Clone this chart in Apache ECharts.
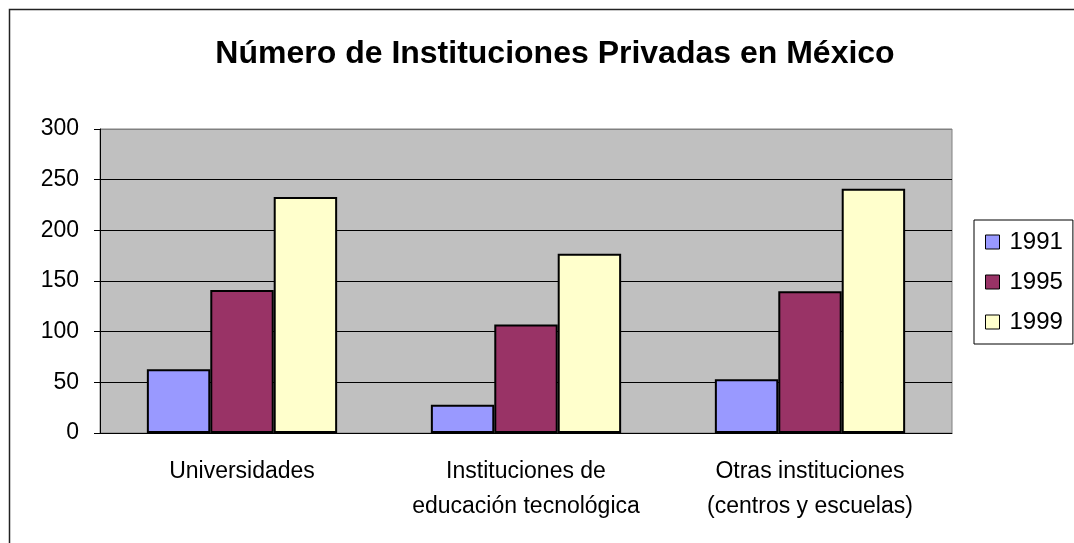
<!DOCTYPE html>
<html>
<head>
<meta charset="utf-8">
<script src="https://cdn.jsdelivr.net/npm/echarts@6/dist/echarts.min.js"></script>
<style>
  html, body { margin: 0; padding: 0; background: #fff; }
  #main { width: 1074px; height: 543px; }
</style>
</head>
<body>
<div id="main"></div>
<script>
// datos
var categorias = ['Universidades', 'Instituciones de\neducación tecnológica', 'Otras instituciones\n(centros y escuelas)'];
var anios = ['1991', '1995', '1999'];
var valores1991 = [63, 28, 53];
var valores1995 = [141, 107, 140];
var valores1999 = [233, 177, 241];
var colores = ['#9999FF', '#993366', '#FFFFCC'];

var myChart = echarts.init(document.getElementById('main'));

var series = [valores1991, valores1995, valores1999].map(function (d, i) {
  return {
    name: anios[i],
    type: 'bar',
    data: d,
    barGap: '0%',
    barCategoryGap: '33%',
    itemStyle: { color: colores[i], borderColor: '#000', borderWidth: 2 }
  };
});

var option = {
  backgroundColor: '#fff',
  animation: false,
  textStyle: { fontFamily: 'Liberation Sans, Arial, sans-serif' },
  title: {
    text: 'Número de Instituciones Privadas en México',
    left: 550, top: 33, textAlign: 'center',
    textStyle: { fontSize: 32, fontWeight: 'bold', color: '#000' }
  },
  graphic: [{
    type: 'rect', silent: true, z: -1,
    shape: { x: 9.5, y: 9.5, width: 1100, height: 600 },
    style: { fill: 'none', stroke: '#222', lineWidth: 1.5 }
  }],
  legend: {
    orient: 'vertical',
    left: 974, top: 220,
    itemWidth: 14, itemHeight: 14, itemGap: 16,
    padding: [10, 10, 10, 11],
    borderColor: '#000', borderWidth: 1,
    icon: 'rect',
    itemStyle: { borderColor: '#000', borderWidth: 1 },
    textStyle: { fontSize: 24, color: '#000', padding: [0, 0, 0, 5] },
    data: anios
  },
  grid: { left: 100, right: 122, top: 129, bottom: 110, show: true, backgroundColor: '#C0C0C0', borderColor: '#808080', borderWidth: 1 },
  xAxis: {
    type: 'category',
    data: categorias,
    axisLine: { lineStyle: { color: '#000', width: 1 } },
    axisTick: { length: 6, lineStyle: { color: '#000' } },
    axisLabel: { interval: 0, hideOverlap: false, fontSize: 23, color: '#000', margin: 21, lineHeight: 35 }
  },
  yAxis: {
    type: 'value',
    min: 0, max: 300, interval: 50,
    axisLine: { show: true, lineStyle: { color: '#000' } },
    axisTick: { show: true, inside: false, length: 6, lineStyle: { color: '#000' } },
    axisLabel: { fontSize: 23, color: '#000', margin: 21 },
    splitLine: { lineStyle: { color: ['#000', '#000', '#000', '#000', '#000', '#000', '#808080'], width: 1 } }
  },
  series: series
};

myChart.setOption(option);
</script>
</body>
</html>
